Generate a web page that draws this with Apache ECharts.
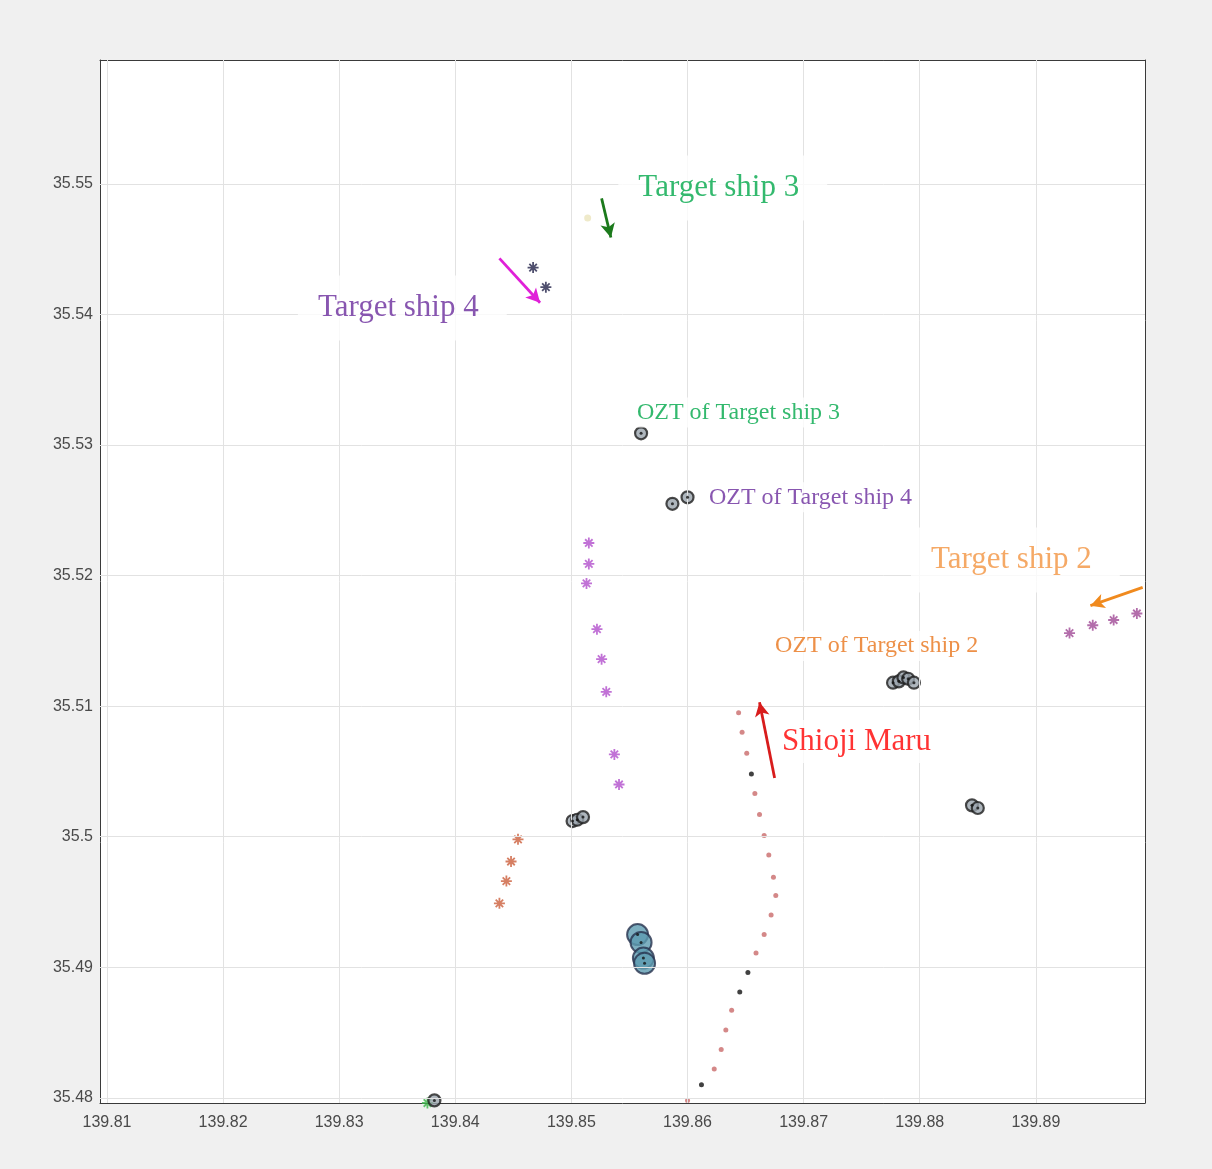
<!DOCTYPE html>
<html>
<head>
<meta charset="utf-8">
<script src="https://cdn.jsdelivr.net/npm/echarts@6/dist/echarts.min.js"></script>
<style>
html,body{margin:0;padding:0;background:#f0f0f0;}
#chart{width:1212px;height:1169px;}
</style>
</head>
<body>
<div id="chart"></div>
<script>
// ---- tick labels ----
const xTicks = [139.81, 139.82, 139.83, 139.84, 139.85, 139.86, 139.87, 139.88, 139.89];
const yTicks = [35.48, 35.49, 35.50, 35.51, 35.52, 35.53, 35.54, 35.55];

// ---- data (lon, lat) ----
const shiojiRed = [[139.8644,35.5095],[139.8647,35.5080],[139.8651,35.5064],[139.8658,35.5033],[139.8662,35.5017],[139.8666,35.5001],[139.8670,35.4986],[139.8674,35.4969],[139.8676,35.4955],[139.8672,35.4940],[139.8666,35.4925],[139.8659,35.4911],[139.8638,35.4867],[139.8633,35.4852],[139.8629,35.4837],[139.8623,35.4822],[139.8600,35.4798]];
const shiojiBlack = [[139.8655,35.5048],[139.8652,35.4896],[139.8645,35.4881],[139.8612,35.4810]];
const violetShip = [[139.8515,35.5225],[139.8515,35.5209],[139.8513,35.5194],[139.8522,35.5159],[139.8526,35.5136],[139.8530,35.5111],[139.8537,35.5063],[139.8541,35.5040]];
const ship2 = [[139.8929,35.5156],[139.8949,35.5162],[139.8967,35.5166],[139.8987,35.5171]];
const ship4 = [[139.8467,35.5436],[139.8478,35.5421]];
const ship3 = [[139.8514,35.5474]];
const redStarShip = [[139.8454,35.4998],[139.8448,35.4981],[139.8444,35.4966],[139.8438,35.4949]];
const greenStar = [[139.8376,35.4796]];
const oztSmall = [[139.8560,35.5309],[139.8587,35.5255],[139.8600,35.5260],[139.8777,35.5118],[139.8782,35.5119],[139.8786,35.5122],[139.8790,35.5121],[139.8795,35.5118],[139.8501,35.5012],[139.8505,35.5013],[139.8510,35.5015],[139.8845,35.5024],[139.8850,35.5022],[139.8382,35.4798]];
const oztLarge = [[139.8557,35.4925],[139.8560,35.4919],[139.8562,35.4907],[139.8563,35.4903]];

// ---- annotation texts ----
const annTexts = ['Target ship 3','Target ship 4','Target ship 2','Shioji Maru','OZT of Target ship 3','OZT of Target ship 4','OZT of Target ship 2'];

const X_MIN = 139.8094, X_MAX = 139.8994, Y_MIN = 35.4796, Y_MAX = 35.5595;
const fmt = v => String(+(+v).toFixed(2));
const axisColor = '#3a3a3a';
const star = 'path://M5,0L5,10M0,5L10,5M1.6,1.6L8.4,8.4M1.6,8.4L8.4,1.6';
const serif = '"Liberation Serif","Times New Roman",serif';

function xAx(pos, labels){
  return {type:'value', min:X_MIN, max:X_MAX, position:pos,
    axisLine:{show:true, onZero:false, lineStyle:{color:axisColor, width:1}},
    axisTick:{show:true, inside:true, length:8, customValues:xTicks, lineStyle:{color:axisColor}},
    axisLabel:{show:labels, customValues:xTicks, formatter:fmt, color:'#4a4a4a', fontSize:16, margin:12, fontFamily:'"Liberation Sans",Arial,sans-serif'},
    splitLine:{show:false}};
}
function yAx(pos, labels){
  return {type:'value', min:Y_MIN, max:Y_MAX, position:pos,
    axisLine:{show:true, onZero:false, lineStyle:{color:axisColor, width:1}},
    axisTick:{show:true, inside:true, length:8, customValues:yTicks, lineStyle:{color:axisColor}},
    axisLabel:{show:labels, customValues:yTicks, formatter:fmt, color:'#4a4a4a', fontSize:16, margin:7, fontFamily:'"Liberation Sans",Arial,sans-serif'},
    splitLine:{show:false}};
}
function bigLabel(color){
  return {show:true, position:'right', distance:0, color:color, fontSize:31, fontFamily:serif,
    backgroundColor:'#ffffff', padding:[17,28,17,20]};
}
function smallLabel(color){
  return {show:true, position:'right', distance:0, color:color, fontSize:24, fontFamily:serif,
    backgroundColor:'#ffffff', padding:[3,4,3,0]};
}
function arrow(from, to, color){
  return [{coord:from, lineStyle:{color:color, width:2.8, type:'solid'}, symbol:'none'},{coord:to, symbol:'arrow'}];
}

const option = {
  backgroundColor:'#f0f0f0',
  animation:false,
  grid:{left:100, right:67, top:60, bottom:66, show:true, backgroundColor:'#ffffff', borderWidth:0},
  xAxis:[xAx('bottom', true), xAx('top', false)],
  yAxis:[yAx('left', true), yAx('right', false)],
  series:[
    {type:'line', data:[], z:1, silent:true,
     markLine:{silent:true, symbol:'none', animation:false, label:{show:false},
       lineStyle:{color:'#e2e2e2', width:1, type:'solid'},
       data:[...xTicks.map(v=>({xAxis:v})), ...yTicks.map(v=>({yAxis:v}))]}},
    {type:'scatter', data:ship3, symbol:'circle', symbolSize:7, itemStyle:{color:'#ebe5bd'}, z:3},
    {type:'scatter', data:shiojiRed, symbol:'circle', symbolSize:5, itemStyle:{color:'#c96a6a'}, z:3},
    {type:'scatter', data:shiojiBlack, symbol:'circle', symbolSize:5, itemStyle:{color:'#111111'}, z:3},
    {type:'scatter', data:violetShip, symbol:star, symbolSize:11, itemStyle:{color:'#b24fcc', borderColor:'#b24fcc', borderWidth:1.8}, z:3},
    {type:'scatter', data:ship2, symbol:star, symbolSize:11, itemStyle:{color:'#a04a96', borderColor:'#a04a96', borderWidth:1.8}, z:3},
    {type:'scatter', data:ship4, symbol:star, symbolSize:11, itemStyle:{color:'#23234a', borderColor:'#23234a', borderWidth:1.8}, z:3},
    {type:'scatter', data:redStarShip, symbol:star, symbolSize:11, itemStyle:{color:'#cc5f3c', borderColor:'#cc5f3c', borderWidth:1.8}, z:3},
    {type:'scatter', data:greenStar, symbol:star, symbolSize:11, itemStyle:{color:'#3cb44a', borderColor:'#3cb44a', borderWidth:1.8}, z:3},
    {type:'scatter', data:oztSmall, symbol:'circle', symbolSize:12, itemStyle:{color:'#9aa4ad', borderColor:'#1e1e1e', borderWidth:2.2}, z:4},
    {type:'scatter', data:oztLarge, symbol:'circle', symbolSize:21, itemStyle:{color:'#5d9bb0', borderColor:'#27324e', borderWidth:2}, z:4},
    {type:'scatter', data:oztSmall.concat(oztLarge), symbol:'circle', symbolSize:3, itemStyle:{color:'#111111'}, z:5},
    {type:'line', data:[], z:6, silent:true,
     markLine:{silent:true, animation:false, symbolSize:[11,14], label:{show:false},
       data:[
         arrow([139.8526,35.5489],[139.8534,35.5459],'#1c7a1c'),
         arrow([139.8438,35.5443],[139.8473,35.5409],'#e020d8'),
         arrow([139.8675,35.5045],[139.8662,35.5103],'#d81c1c'),
         arrow([139.8992,35.5191],[139.8947,35.5177],'#f08a1e')
       ]}},
    {type:'scatter', z:8, symbol:'circle', symbolSize:1, itemStyle:{color:'rgba(0,0,0,0)'}, silent:true,
     data:[
       {value:[139.8540,35.5497], name:annTexts[0], label:Object.assign(bigLabel('#00a84a'),{formatter:annTexts[0]})},
       {value:[139.8264,35.5405], name:annTexts[1], label:Object.assign(bigLabel('#6a2c9c'),{formatter:annTexts[1]})},
       {value:[139.8792,35.5212], name:annTexts[2], label:Object.assign(bigLabel('#f39440'),{formatter:annTexts[2]})},
       {value:[139.8681,35.5073], name:annTexts[3], label:Object.assign(bigLabel('#ff0000'),{formatter:annTexts[3], padding:[6,6,6,0]})},
       {value:[139.8556,35.5325], name:annTexts[4], label:Object.assign(smallLabel('#00a84a'),{formatter:annTexts[4]})},
       {value:[139.8618,35.5260], name:annTexts[5], label:Object.assign(smallLabel('#6a2c9c'),{formatter:annTexts[5]})},
       {value:[139.8675,35.5146], name:annTexts[6], label:Object.assign(smallLabel('#e8741a'),{formatter:annTexts[6]})}
     ]}
  ]
};
const chart = echarts.init(document.getElementById('chart'), null, {renderer:'canvas'});
chart.setOption(option);
</script>
</body>
</html>
